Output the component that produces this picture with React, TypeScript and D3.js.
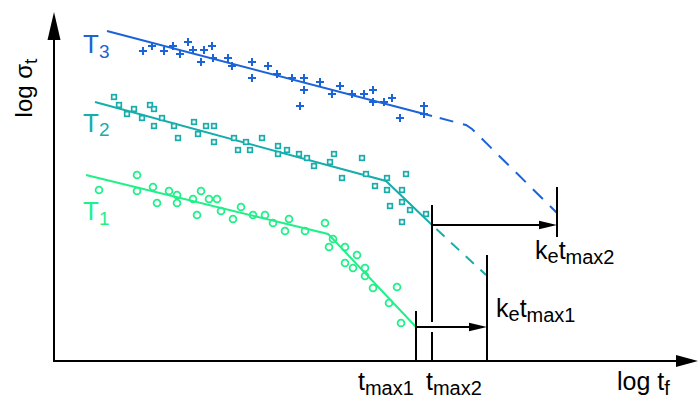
import React from 'react';
import * as d3 from 'd3';

const W = 699;
const H = 399;

// schematic units: log t_f along x, log sigma_t along y
const t3Points: [number, number][] = [
  [89, 310], [98, 315], [110, 310], [119, 315], [126, 307], [134, 319], [139, 311], [147, 299],
  [150, 311], [158, 315], [159, 303], [174, 303], [178, 295], [198, 299], [198, 283], [214, 295],
  [223, 287], [238, 283], [250, 283], [250, 271], [246, 255], [266, 279], [278, 267], [286, 275],
  [298, 267], [310, 267], [319, 271], [319, 259], [330, 259], [338, 263], [346, 243], [370, 255],
  [370, 247],
];
const t2Points: [number, number][] = [
  [60, 264], [65, 256], [73, 247], [80, 252], [88, 243], [96, 256], [100, 252], [100, 235],
  [108, 243], [120, 235], [124, 223], [140, 239], [144, 227], [152, 235], [160, 235], [160, 219],
  [180, 223], [184, 211], [192, 219], [196, 211], [208, 223], [224, 215], [224, 207], [233, 211],
  [245, 207], [253, 203], [260, 195], [276, 199], [280, 207], [288, 183], [308, 203], [312, 187],
  [321, 175], [333, 183], [333, 171], [352, 187], [348, 171], [348, 159], [336, 155], [356, 151],
  [372, 147], [348, 139],
];
const t1Points: [number, number][] = [
  [45, 171], [83, 186], [83, 170], [99, 174], [103, 158], [115, 170], [123, 166], [123, 158],
  [139, 162], [143, 146], [147, 170], [155, 162], [163, 162], [167, 150], [179, 142], [187, 154],
  [199, 146], [211, 146], [219, 138], [235, 142], [231, 130], [251, 130], [271, 138], [279, 122],
  [275, 114], [291, 114], [303, 106], [291, 98], [299, 93], [311, 93], [311, 85], [319, 73],
  [343, 74], [335, 58], [347, 38],
];

const t3Fit: [number, number][] = [[53, 330], [378, 245]];
const t3Extrap: [number, number][] = [[378, 245], [412, 236], [418, 232], [503, 148]];
const t2Fit: [number, number][] = [[41, 259], [332, 180], [378, 136]];
const t2Extrap: [number, number][] = [[378, 136], [432, 86]];
const t1Fit: [number, number][] = [[32, 186], [274, 127], [279, 122], [362, 34]];

const tMax1 = 362;
const tMax2 = 378;
const keTMax1 = 433;
const keTMax2 = 503;

const BLUE = '#1b63d9';
const TEAL = '#16adab';
const GREEN = '#1ff088';
const FONT = '"Liberation Sans", Arial, Helvetica, sans-serif';

export default function App() {
  const x = d3.scaleLinear().domain([0, 644]).range([54, 698]);
  const y = d3.scaleLinear().domain([0, 349]).range([361, 12]);
  const line = d3.line<[number, number]>().x(d => x(d[0])).y(d => y(d[1]));

  const arrowRight = (xTip: number, yy: number, len: number, hw: number) =>
    `M${xTip},${yy} L${xTip - len},${yy - hw} L${xTip - len},${yy + hw} Z`;

  return (
    <svg width={W} height={H} style={{ position: 'absolute', left: 0, top: 0, background: '#fff' }}
      fontFamily={FONT}>
      {/* axes */}
      <path d={`M${x(0)},${y(330)} L${x(0)},${y(0)} L${x(625)},${y(0)}`} fill="none" stroke="#000" strokeWidth={2} />
      <path d={`M${x(0)},${y(349)} L${x(0) - 6.5},${y(349) + 28} L${x(0) + 6.5},${y(349) + 28} Z`} fill="#000" />
      <path d={arrowRight(x(644), y(0), 22, 6)} fill="#000" />

      {/* fitted lines */}
      <path d={line(t3Fit) ?? ''} fill="none" stroke={BLUE} strokeWidth={2} />
      <path d={line(t3Extrap) ?? ''} fill="none" stroke={BLUE} strokeWidth={2} strokeDasharray="14 10" strokeDashoffset={-8} />
      <path d={line(t2Fit) ?? ''} fill="none" stroke={TEAL} strokeWidth={2} />
      <path d={line(t2Extrap) ?? ''} fill="none" stroke={TEAL} strokeWidth={2} strokeDasharray="11 9" strokeDashoffset={-6} />
      <path d={line(t1Fit) ?? ''} fill="none" stroke={GREEN} strokeWidth={2} />

      {/* markers */}
      {t3Points.map((d, i) => (
        <path key={'p3' + i}
          d={`M${x(d[0]) - 4},${y(d[1])} h8 M${x(d[0])},${y(d[1]) - 4} v8`}
          stroke={BLUE} strokeWidth={2} fill="none" />
      ))}
      {t2Points.map((d, i) => (
        <rect key={'p2' + i} x={x(d[0]) - 2.3} y={y(d[1]) - 2.3} width={4.6} height={4.6}
          fill="#fff" stroke={TEAL} strokeWidth={1.7} />
      ))}
      {t1Points.map((d, i) => (
        <circle key={'p1' + i} cx={x(d[0])} cy={y(d[1])} r={3.4}
          fill="none" stroke={GREEN} strokeWidth={1.8} />
      ))}

      {/* time markers */}
      <g stroke="#000" strokeWidth={2} fill="none">
        <line x1={x(tMax1)} x2={x(tMax1)} y1={y(50)} y2={y(0)} />
        <line x1={x(tMax2)} x2={x(tMax2)} y1={y(156)} y2={y(39)} />
        <line x1={x(tMax2)} x2={x(tMax2)} y1={y(29)} y2={y(0)} />
        <line x1={x(keTMax1)} x2={x(keTMax1)} y1={y(106)} y2={y(0)} />
        <line x1={x(keTMax2)} x2={x(keTMax2)} y1={y(174)} y2={y(124)} />
        <line x1={x(tMax1)} x2={x(keTMax1) - 14} y1={y(34)} y2={y(34)} />
        <line x1={x(tMax2)} x2={x(keTMax2) - 14} y1={y(136)} y2={y(136)} />
      </g>
      <path d={arrowRight(x(keTMax1), y(34), 18, 4.3)} fill="#000" />
      <path d={arrowRight(x(keTMax2), y(136), 18, 4.3)} fill="#000" />

      {/* series labels */}
      <text x={83} y={53} fill={BLUE} fontSize={26}>T<tspan fontSize={19} dy={5}>3</tspan></text>
      <text x={83} y={132} fill={TEAL} fontSize={26}>T<tspan fontSize={19} dy={4}>2</tspan></text>
      <text x={83} y={220} fill={GREEN} fontSize={26}>T<tspan fontSize={19} dy={5}>1</tspan></text>

      {/* annotation labels */}
      <text x={x(keTMax2) - 22} y={259} fontSize={25} fill="#000">
        k<tspan fontSize={20} dy={4}>e</tspan><tspan dy={-4}>t</tspan><tspan fontSize={20} dy={5}>max2</tspan>
      </text>
      <text x={x(keTMax1) + 9} y={317} fontSize={25} fill="#000">
        k<tspan fontSize={20} dy={4}>e</tspan><tspan dy={-4}>t</tspan><tspan fontSize={20} dy={5}>max1</tspan>
      </text>
      <text x={x(tMax1) - 58} y={390} fontSize={25} fill="#000">
        t<tspan fontSize={20} dy={5}>max1</tspan>
      </text>
      <text x={x(tMax2) - 6} y={390} fontSize={25} fill="#000">
        t<tspan fontSize={20} dy={5}>max2</tspan>
      </text>
      <text x={617} y={390} fontSize={25} fill="#000">
        log t<tspan fontSize={20} dy={5}>f</tspan>
      </text>
      <text transform="translate(32,88) rotate(-90)" textAnchor="middle" fontSize={24} fill="#000">
        log σ<tspan fontSize={19} dy={5}>t</tspan>
      </text>
    </svg>
  );
}
